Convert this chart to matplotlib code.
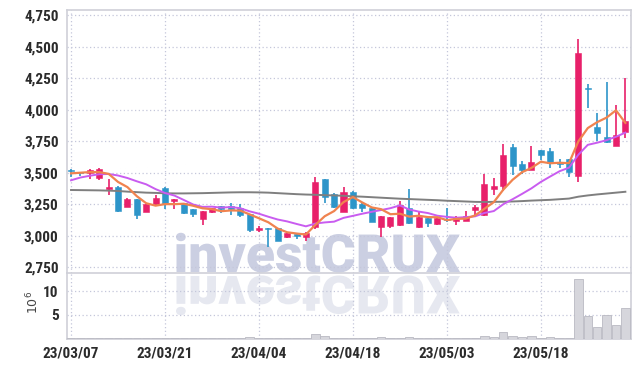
import os
import matplotlib
matplotlib.use('Agg')
import matplotlib.pyplot as plt
import numpy as np
from matplotlib.textpath import TextPath
from matplotlib.patches import PathPatch
from matplotlib.font_manager import FontProperties, fontManager
from matplotlib.transforms import Affine2D

# ---------------- data ----------------
dates = ['23/03/07', '23/03/08', '23/03/09', '23/03/10', '23/03/13', '23/03/14', '23/03/15', '23/03/16', '23/03/17', '23/03/20',
         '23/03/21', '23/03/22', '23/03/23', '23/03/24', '23/03/27', '23/03/28', '23/03/29', '23/03/30', '23/03/31', '23/04/03',
         '23/04/04', '23/04/05', '23/04/06', '23/04/07', '23/04/10', '23/04/11', '23/04/12', '23/04/13', '23/04/14', '23/04/17',
         '23/04/18', '23/04/19', '23/04/20', '23/04/21', '23/04/24', '23/04/25', '23/04/26', '23/04/27', '23/04/28', '23/05/02',
         '23/05/03', '23/05/04', '23/05/08', '23/05/09', '23/05/10', '23/05/11', '23/05/12', '23/05/15', '23/05/16', '23/05/17',
         '23/05/18', '23/05/19', '23/05/22', '23/05/23', '23/05/24', '23/05/25', '23/05/26', '23/05/30', '23/05/31', '23/06/01']

opens = [3525, 3502, 3500, 3460, 3370, 3390, 3230, 3290, 3190, 3250,
         3380, 3278, 3257, 3210, 3135, 3190, 3235, 3235, 3218, 3172,
         3046, 3060, 3060, 2988, 3018, 2987, 3068, 3450, 3335, 3192,
         3348, 3255, 3218, 3068, 3078, 3085, 3218, 3068, 3143, 3092,
         3135, 3118, 3118, 3205, 3165, 3370, 3397, 3700, 3568, 3522,
         3680, 3672, 3582, 3606, 3477, 4172, 3860, 3780, 3715, 3825]
highs = [3528, 3505, 3528, 3535, 3450, 3395, 3300, 3295, 3255, 3325,
         3385, 3290, 3260, 3212, 3198, 3222, 3238, 3257, 3255, 3175,
         3075, 3062, 3065, 3030, 3022, 3030, 3470, 3452, 3338, 3390,
         3355, 3258, 3220, 3160, 3150, 3278, 3370, 3192, 3146, 3146,
         3218, 3155, 3199, 3244, 3490, 3456, 3728, 3727, 3593, 3712,
         3682, 3693, 3606, 3610, 4557, 4200, 3970, 4220, 4037, 4253]
lows = [3468, 3475, 3450, 3445, 3325, 3190, 3225, 3135, 3185, 3245,
        3215, 3210, 3175, 3150, 3083, 3180, 3177, 3165, 3150, 3027,
        3030, 2915, 2955, 2980, 2975, 2960, 3053, 3257, 3220, 3188,
        3215, 3186, 3108, 2993, 3060, 3080, 3095, 3062, 3072, 3088,
        3112, 3085, 3115, 3150, 3160, 3323, 3357, 3482, 3490, 3518,
        3600, 3535, 3535, 3463, 3429, 4010, 3755, 3738, 3712, 3773]
closes = [3515, 3497, 3525, 3530, 3390, 3195, 3290, 3165, 3250, 3297,
          3255, 3288, 3180, 3172, 3195, 3218, 3210, 3212, 3167, 3045,
          3060, 3052, 2962, 3020, 2995, 3022, 3430, 3310, 3225, 3348,
          3220, 3218, 3112, 3157, 3146, 3244, 3100, 3150, 3100, 3143,
          3127, 3150, 3158, 3225, 3410, 3393, 3640, 3553, 3522, 3582,
          3640, 3580, 3570, 3508, 4446, 4165, 3817, 3747, 3798, 3910]

ma_short = [3495, 3500, 3505, 3505, 3491, 3427, 3386, 3314, 3258, 3239,
            3251, 3251, 3254, 3238, 3218, 3211, 3195, 3201, 3200, 3170,
            3139, 3107, 3057, 3028, 3018, 3010, 3086, 3155, 3196, 3267,
            3307, 3264, 3225, 3211, 3171, 3175, 3152, 3159, 3148, 3147,
            3124, 3134, 3136, 3161, 3214, 3267, 3365, 3444, 3504, 3538,
            3587, 3575, 3579, 3576, 3749, 3854, 3901, 3937, 3995, 3895]
ma_mid = [3440, 3462, 3476, 3488, 3490, 3478, 3458, 3432, 3408, 3370,
          3339, 3319, 3284, 3248, 3229, 3231, 3223, 3228, 3219, 3194,
          3175, 3151, 3129, 3114, 3094, 3075, 3097, 3106, 3112, 3142,
          3158, 3175, 3190, 3204, 3219, 3241, 3208, 3192, 3180, 3159,
          3150, 3143, 3148, 3154, 3181, 3196, 3250, 3290, 3332, 3376,
          3427, 3470, 3512, 3540, 3643, 3721, 3738, 3758, 3785, 3818]
ma_long = [3363, 3362, 3361, 3360, 3358, 3355, 3350, 3346, 3342, 3340,
           3337, 3336, 3336, 3337, 3338, 3340, 3342, 3344, 3345, 3345,
           3344, 3342, 3338, 3334, 3330, 3327, 3325, 3322, 3320, 3317,
           3313, 3310, 3306, 3302, 3298, 3294, 3291, 3288, 3285, 3282,
           3278, 3275, 3272, 3269, 3268, 3269, 3270, 3272, 3275, 3279,
           3282, 3285, 3290, 3295, 3310, 3320, 3328, 3335, 3342, 3349]

volumes = [0.08, 0.08, 0.08, 0.08, 0.08, 0.08, 0.08, 0.08, 0.08, 0.08,
           0.08, 0.08, 0.08, 0.08, 0.08, 0.08, 0.08, 0.08, 0.08, 0.35,
           0.08, 0.08, 0.08, 0.08, 0.08, 0.08, 0.85, 0.45, 0.08, 0.08,
           0.08, 0.08, 0.08, 0.35, 0.08, 0.08, 0.35, 0.08, 0.08, 0.08,
           0.08, 0.08, 0.08, 0.08, 0.6, 0.35, 1.45, 0.6, 0.4, 0.6,
           0.08, 0.4, 0.08, 0.08, 12.6, 4.85, 2.45, 5.05, 2.95, 6.5]

price_ticks = [2750, 3000, 3250, 3500, 3750, 4000, 4250, 4500, 4750]
volume_ticks = [5, 10]
date_tick_step = 10
watermark = 'investCRUX'

# ---------------- style ----------------
UP = '#e8206a'
DOWN = '#2d95c9'
GRID = '#c4c7da'
SPINE = '#cfd0d8'
TXT = '#2b2b2b'

_files = [f.fname for f in fontManager.ttflist]


def find_font(basenames):
    for b in basenames:
        for fn in _files:
            if os.path.basename(fn).lower() == b.lower():
                return fn
    return None


cond_file = find_font(['LiberationSansNarrow-Bold.ttf', 'RobotoCondensed-Bold.ttf',
                       'RobotoCondensed-Medium.ttf', 'DejaVuSansCondensed-Bold.ttf',
                       'LiberationSansNarrow-Regular.ttf', 'DejaVuSansCondensed.ttf'])
if cond_file:
    lab_prop = FontProperties(fname=cond_file, size=11)
else:
    lab_prop = FontProperties(family='DejaVu Sans', weight='bold', size=9)

wm_file = find_font(['Roboto-Black.ttf', 'Roboto-Bold.ttf', 'Lato-Black.ttf', 'DejaVuSans-Bold.ttf'])
wm_prop = FontProperties(fname=wm_file) if wm_file else FontProperties(family='Roboto', weight='black', style='normal')

W, H = 639, 367
fig = plt.figure(figsize=(W / 100, H / 100), dpi=100, facecolor='white')


def px_axes(l, t, r, b, **kw):
    return fig.add_axes([l / W, 1 - b / H, (r - l) / W, (b - t) / H], **kw)


ax = px_axes(67, 10, 631, 273)
axv = px_axes(67, 273, 631, 338.5, sharex=ax)

x = np.arange(len(closes))
o = np.array(opens, float)
c = np.array(closes, float)
hi = np.array(highs, float)
lo = np.array(lows, float)
cols = [UP if cc >= oo else DOWN for oo, cc in zip(o, c)]
body_b = np.minimum(o, c)
body_h = np.maximum(np.abs(c - o), 9)

ax.vlines(x, lo, hi, colors=cols, lw=1.2, zorder=3)
ax.bar(x, body_h, bottom=body_b, width=0.64, color=cols, edgecolor=cols, linewidth=0.4, zorder=3.1)

ax.plot(x, ma_long, color='#7f7f7f', lw=1.4, zorder=4)
ax.plot(x, ma_mid, color='#c95cf0', lw=1.4, zorder=4.1)
ax.plot(x, ma_short, color='#f0834f', lw=1.6, zorder=4.2)

axv.bar(x, volumes, width=0.9, color='#d6d6dc', edgecolor='#b9b9c2', linewidth=0.6, zorder=3)

ax.set_xlim(-0.43, 59.6)
ax.set_ylim(2705, 4790)
axv.set_ylim(0, 13.9)

ax.set_yticks(price_ticks)
ax.set_yticklabels([f'{v:,}' for v in price_ticks])
axv.set_yticks(volume_ticks)
axv.set_yticklabels([str(v) for v in volume_ticks])
xt = x[::date_tick_step]
axv.set_xticks(xt)
axv.set_xticklabels([dates[i] for i in xt])
ax.tick_params(axis='x', labelbottom=False, length=0)

for a in (ax, axv):
    a.set_facecolor('none')
    a.grid(True, color=GRID, linestyle=(0, (1, 2)), lw=0.9)
    a.set_axisbelow(True)
    a.tick_params(length=0, colors=TXT, pad=6)
    for lab in a.get_yticklabels() + a.get_xticklabels():
        lab.set_fontproperties(lab_prop)
    for s in a.spines.values():
        s.set_color(SPINE)
        s.set_linewidth(1.2)
ax.spines['bottom'].set_visible(False)
axv.tick_params(axis='x', pad=6)

fig.text(33 / W, 1 - 302 / H, r'$10^6$', rotation=90, ha='center', va='center',
         fontsize=9, color='#444444')

# watermark and its reflection (behind the axes)
tp = TextPath((0, 0), watermark, size=1, prop=wm_prop)
cap = TextPath((0, 0), 'CRUX', size=1, prop=wm_prop).get_extents().y1
ext = tp.get_extents()
sx = (460 - 176) / ext.width
sy = 38 / cap
t1 = Affine2D().translate(-ext.x0, 0).scale(sx, sy).translate(176, H - 272)
t2 = Affine2D().translate(-ext.x0, 0).scale(sx, -sy).translate(176, H - 276)
fig.add_artist(PathPatch(tp, transform=t1, facecolor='#cbcfe2', edgecolor='none', zorder=-1))
fig.add_artist(PathPatch(tp, transform=t2, facecolor='#e6e8f0', edgecolor='none', zorder=-1))

fig.savefig('out.png', dpi=100, facecolor='white')
